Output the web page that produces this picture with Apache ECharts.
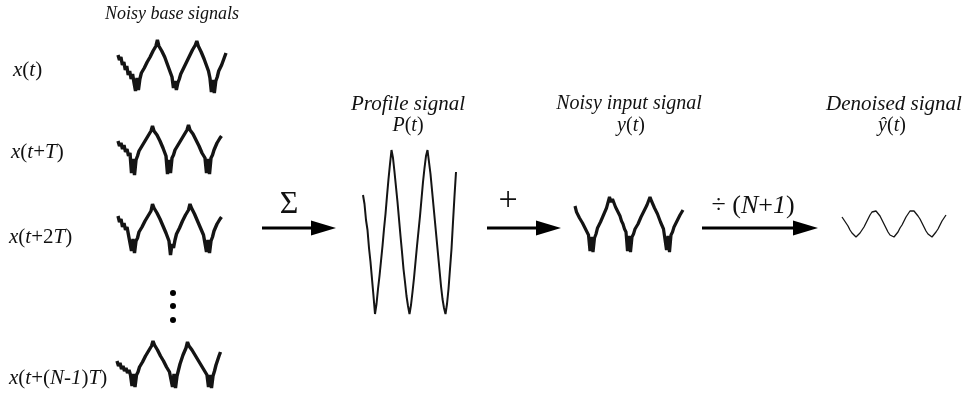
<!DOCTYPE html>
<html><head><meta charset="utf-8">
<script src="https://cdn.jsdelivr.net/npm/echarts@6/dist/echarts.min.js"></script>
<style>html,body{margin:0;padding:0;background:#fff}#c{width:973px;height:396px}</style>
</head><body><div id="c"></div><script>
// Noisy base signal x(t)
const baseX0 = [8,3,6,-2,1,-7,-3,-12,-8,-16,-11,-20,
  -28,-15,-27,
  -16,-10,-9,-5,-4,1,0,6,5,12,10,17,
  23,17,
  18,12,10,6,4,-2,-4,-10,-14,
  -25,-18,-27,-20,
  -16,-11,-10,-5,-6,1,0,7,6,13,11,18,
  22,17,
  16,11,9,4,2,-4,-8,-15,
  -29,-17,-30,-18,
  -14,-8,-8,-2,0,6,10];
// x(t+T)
const baseX1 = [2,-3,0,-6,-2,-9,-6,-13,-10,
  -30,-16,-32,-17,
  -13,-8,-8,-3,-4,2,1,7,6,12,
  17,12,
  13,8,6,2,1,-5,-6,-13,
  -31,-17,-30,-15,
  -12,-7,-7,-2,-3,3,2,8,7,13,
  18,13,
  14,9,7,3,2,-3,-4,-10,-10,-15,
  -30,-16,-31,-15,
  -12,-7,-6,0,0,5,7];
// x(t+2T)
const baseX2 = [8,2,5,-3,1,-6,-3,-11,-11,
  -27,-15,-29,-17,
  -14,-8,-9,-3,-3,3,2,8,7,13,
  20,16,
  16,11,9,5,4,-2,-4,-9,-11,-17,
  -31,-20,-24,
  -16,-10,-10,-4,-4,3,2,9,8,14,
  20,16,
  17,10,10,3,4,-4,-4,-11,-12,
  -28,-16,-29,-17,
  -13,-7,-7,0,0,5,7];
// x(t+(N-1)T)
const baseXN = [-1,-6,-3,-9,-6,-11,-8,-13,-10,-15,
  -26,-14,-27,-15,
  -12,-7,-7,-2,-2,4,3,9,8,14,
  19,15,
  16,10,11,4,6,-1,0,-7,-6,-12,-12,
  -27,-14,-28,-16,
  -10,-4,-3,5,5,12,
  18,14,
  15,10,9,5,4,0,-1,-5,-6,-10,-10,-15,
  -27,-15,-28,-16,
  -11,-5,-4,4,8];
// Profile signal P(t)
const profileP = [39,30,14,4,-14,-28,-45,-62,
  -80,-70,
  -55,-42,-27,-12,5,20,38,55,70,
  84,76,
  62,47,32,15,-2,-18,-35,-48,-62,-72,
  -80,-71,
  -58,-44,-28,-12,3,18,35,52,66,78,
  84,72,
  60,44,28,12,-4,-20,-36,-52,-65,-74,
  -80,-70,
  -55,-35,-15,12,38,62];
// Noisy input signal y(t)
const inputY = [12,6,6,0,0,-5,-6,-11,-11,-17,
  -33,-19,-34,-20,
  -16,-10,-9,-4,-2,3,5,10,11,
  21,16,19,
  15,11,8,5,2,-3,-6,-11,-14,
  -33,-18,-34,-19,
  -16,-11,-10,-6,-4,1,3,7,9,13,14,
  21,17,
  15,10,8,4,2,-4,-5,-11,-13,
  -32,-18,-34,-17,
  -14,-9,-7,-3,-1,3,4,8];
// Denoised signal
const denoisedY = [7,5,1,-2,-6,-9,-11,-13,
  -12,
  -9,-6,-3,1,5,9,12,14,
  13,11,8,4,0,-4,-8,-11,-13,
  -13,
  -11,-8,-4,-1,3,7,10,13,14,
  13,11,8,5,1,-3,-7,-10,-12,-13,
  -11,-8,-5,-1,3,6,9];

const panels = [
  {data: baseX0, left:118, top:35, width:108, height:60, min:-32, max:28, lw:3.4},
  {data: baseX1, left:118, top:115, width:103.5, height:60, min:-32, max:28, lw:3.4},
  {data: baseX2, left:118, top:196, width:103.5, height:60, min:-32, max:28, lw:3.4},
  {data: baseXN, left:117, top:332, width:103.5, height:60, min:-32, max:28, lw:3.4},
  {data: profileP, left:363, top:148, width:93, height:170, min:-84, max:86, lw:2},
  {data: inputY, left:575, top:188, width:108, height:66, min:-36, max:30, lw:3.2},
  {data: denoisedY, left:842, top:208, width:104, height:32, min:-16, max:16, lw:1.3}
];

const FF = "'Liberation Serif','DejaVu Serif',serif";
const rich = (sz) => ({
  i: {fontFamily: FF, fontStyle: 'italic', fontSize: sz, fill: '#111'},
  n: {fontFamily: FF, fontStyle: 'normal', fontSize: sz, fill: '#111'}
});
function txt(x, y, text, sz, align) {
  return {type: 'text', x: x, y: y, silent: true,
    style: {text: text, rich: rich(sz), align: align || 'center', verticalAlign: 'middle',
      font: (sz) + 'px ' + FF, fill: '#111'}};
}
function arrow(x1, x2, y) {
  return [
    {type: 'line', silent: true, shape: {x1: x1, y1: y, x2: x2 - 22, y2: y}, style: {stroke: '#000', lineWidth: 3}},
    {type: 'polygon', silent: true, shape: {points: [[x2 - 25, y - 7.5], [x2, y], [x2 - 25, y + 7.5]]}, style: {fill: '#000'}}
  ];
}

const graphics = [
  txt(172, 14, '{i|Noisy base signals}', 18),
  txt(13, 70, '{i|x}{n|(}{i|t}{n|)}', 21, 'left'),
  txt(11, 152, '{i|x}{n|(}{i|t}{n|+}{i|T}{n|)}', 21, 'left'),
  txt(9, 237, '{i|x}{n|(}{i|t}{n|+2}{i|T}{n|)}', 21, 'left'),
  txt(9, 378, '{i|x}{n|(}{i|t}{n|+(}{i|N}{n|-}{i|1}{n|)}{i|T}{n|)}', 21, 'left'),
  txt(408, 104, '{i|Profile signal}', 21),
  txt(408, 126, '{i|P}{n|(}{i|t}{n|)}', 20),
  txt(629, 104, '{i|Noisy input signal}', 20),
  txt(631, 126, '{i|y}{n|(}{i|t}{n|)}', 20),
  txt(894, 104, '{i|Denoised signal}', 21),
  txt(892, 126, '{i|ŷ}{n|(}{i|t}{n|)}', 20),
  txt(289, 205, '{n|Σ}', 32),
  txt(508, 201, '{n|+}', 34),
  txt(753, 206, '{n|÷ (}{i|N}{n|+}{i|1}{n|)}', 26),
  {type: 'circle', silent: true, shape: {cx: 173, cy: 293, r: 3}, style: {fill: '#000'}},
  {type: 'circle', silent: true, shape: {cx: 173, cy: 306, r: 3}, style: {fill: '#000'}},
  {type: 'circle', silent: true, shape: {cx: 173, cy: 320, r: 3}, style: {fill: '#000'}}
].concat(arrow(262, 336, 228), arrow(487, 561, 228), arrow(702, 818, 228));

const chart = echarts.init(document.getElementById('c'), null, {renderer: 'canvas'});
chart.setOption({
  animation: false,
  backgroundColor: '#fff',
  grid: panels.map(p => ({left: p.left, top: p.top, width: p.width, height: p.height, containLabel: false})),
  xAxis: panels.map((p, k) => ({type: 'value', gridIndex: k, min: 0, max: p.data.length - 1, show: false})),
  yAxis: panels.map((p, k) => ({type: 'value', gridIndex: k, min: p.min, max: p.max, show: false})),
  series: panels.map((p, k) => ({
    type: 'line', xAxisIndex: k, yAxisIndex: k, symbol: 'none', silent: true,
    lineStyle: {color: '#141414', width: p.lw, join: 'bevel'},
    data: p.data.map((v, i) => [i, v])
  })),
  graphic: graphics
});
</script></body></html>
